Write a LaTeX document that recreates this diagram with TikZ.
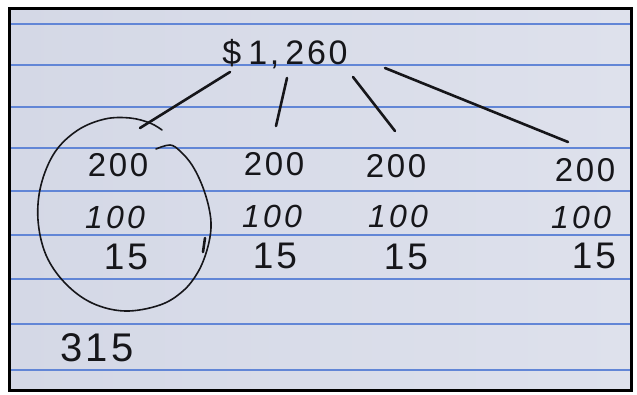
\documentclass[tikz,border=0pt]{standalone}
\usepackage{fontspec}
\newfontfamily\hand[LetterSpace=8]{Liberation Sans}
\newfontfamily\handit[LetterSpace=10]{Liberation Sans Italic}
\definecolor{paper}{RGB}{234,236,244}
\definecolor{paperdark}{RGB}{212,216,230}
\definecolor{paperright}{RGB}{222,225,236}
\definecolor{ruleblue}{RGB}{98,134,214}
\definecolor{ink}{RGB}{22,22,26}
\begin{document}
\begin{tikzpicture}[x=1pt,y=-1pt,
  num/.style={font=\hand\fontsize{33}{33}\selectfont, text=ink, inner sep=0pt},
  numit/.style={font=\handit\fontsize{32}{32}\selectfont, text=ink, inner sep=0pt},
  numbig/.style={font=\hand\fontsize{37}{37}\selectfont, text=ink, inner sep=0pt},
  conn/.style={draw=ink, line width=2.6pt, line cap=round},
  ruleline/.style={draw=ruleblue, line width=1.3pt},
  loopline/.style={draw=ink, line width=1.6pt, line cap=round}]
\useasboundingbox (0,0) rectangle (637,394);
\fill[white] (0,0) rectangle (637,394);
\shade[left color=paperdark, middle color=paper, right color=paperright] (9,8) rectangle (631,390);
\foreach \yy in {24,65,107,148,191,235,279,324,370}
  \draw[ruleline] (10,\yy) -- (630,\yy);
\draw[black, line width=3pt] (9,8) rectangle (631,390);

% top total
\node[num, font=\hand\fontsize{34}{34}\selectfont] (total) at (285,54) {\$\hspace{7pt}1,\hspace{6pt}260};

% row of 200
\node[num] (a1) at (118,165) {200};
\node[num] (a2) at (274,164) {200};
\node[num] (a3) at (396,166) {200};
\node[num] (a4) at (585,170) {200};
% row of 100
\node[numit] (b1) at (115,217) {100};
\node[numit] (b2) at (272,216) {100};
\node[numit] (b3) at (398,216) {100};
\node[numit] (b4) at (581,217) {100};
% row of 15
\node[numbig] (c1) at (126,257) {15};
\node[numbig] (c2) at (275,256) {15};
\node[numbig] (c3) at (406,257) {15};
\node[numbig] (c4) at (594,256) {15};
% sum
\node[numbig, font=\hand\fontsize{40}{40}\selectfont] (sum) at (97,348) {315};

% connectors
\coordinate (s1) at (230,72); \coordinate (e1) at (140,128);
\coordinate (s2) at (287,78); \coordinate (e2) at (276,126);
\coordinate (s3) at (353,77); \coordinate (e3) at (395,131);
\coordinate (s4) at (385,68); \coordinate (e4) at (568,142);
\draw[conn] (s1) -- (e1);
\draw[conn] (s2) -- (e2);
\draw[conn] (s3) -- (e3);
\draw[conn] (s4) -- (e4);

% hand-drawn loop around the first column
\draw[loopline] plot[smooth, tension=0.6] coordinates {
  (156,149) (170,145) (180,151) (192,165) (202,185) (209,208) (211,228)
  (207,250) (198,272) (183,291) (160,305) (125,311) (92,303) (65,283)
  (46,255) (38,220) (41,185) (55,152) (78,130) (105,119) (130,118)
  (150,123) (162,130)};
\draw[loopline, line width=2.6pt] (205,238) -- (203,252);
\end{tikzpicture}
\end{document}
